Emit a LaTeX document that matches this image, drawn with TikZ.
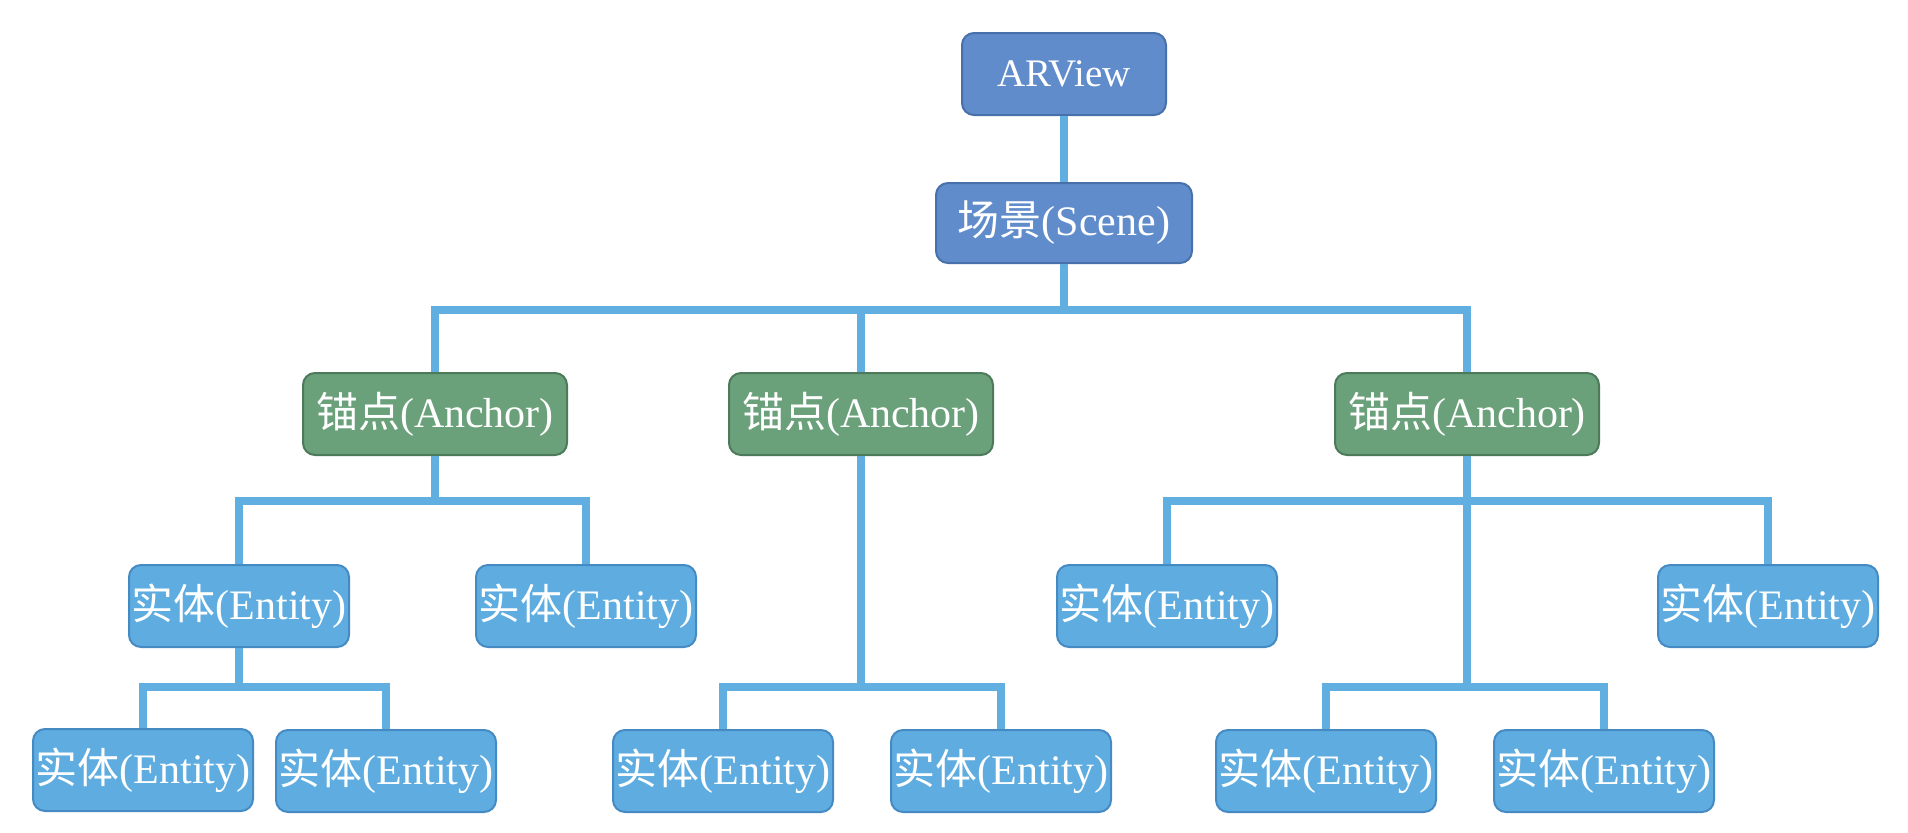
\documentclass[tikz,border=0pt]{standalone}
\usepackage{fontspec}
\setmainfont{Liberation Serif}
\newfontfamily\cjk{Noto Sans CJK SC}
\definecolor{topfill}{RGB}{96,140,204}
\definecolor{topdraw}{RGB}{72,112,170}
\definecolor{ancfill}{RGB}{106,160,122}
\definecolor{ancdraw}{RGB}{76,122,90}
\definecolor{entfill}{RGB}{95,173,224}
\definecolor{entdraw}{RGB}{70,138,196}
\definecolor{linec}{RGB}{96,175,224}
\begin{document}
\begin{tikzpicture}[x=0.5pt,y=-0.5pt,
  box/.style={rounded corners=6pt, draw, line width=1pt, text=white,
    font=\fontsize{21}{25}\selectfont, inner sep=0pt, minimum height=41pt},
  topbox/.style={box, fill=topfill, draw=topdraw},
  ancbox/.style={box, fill=ancfill, draw=ancdraw, minimum width=132pt},
  entbox/.style={box, fill=entfill, draw=entdraw, minimum width=110pt},
  conn/.style={draw=linec, line width=4pt}]
\useasboundingbox[fill=white] (0,0) rectangle (1908,832);
% nodes
\node[topbox, minimum width=102pt, font=\fontsize{19.5}{24}\selectfont] (arview) at (1064,74) {ARView};
\node[topbox, minimum width=128pt, minimum height=40pt] (scene) at (1064,223) {{\cjk 场景}(Scene)};
\node[ancbox] (a1) at (435,414) {{\cjk 锚点}(Anchor)};
\node[ancbox] (a2) at (861,414) {{\cjk 锚点}(Anchor)};
\node[ancbox] (a3) at (1467,414) {{\cjk 锚点}(Anchor)};
\node[entbox] (e1) at (239,606) {{\cjk 实体}(Entity)};
\node[entbox] (e2) at (586,606) {{\cjk 实体}(Entity)};
\node[entbox] (e3) at (1167,606) {{\cjk 实体}(Entity)};
\node[entbox] (e4) at (1768,606) {{\cjk 实体}(Entity)};
\node[entbox] (l1) at (143,770) {{\cjk 实体}(Entity)};
\node[entbox] (l2) at (386,771) {{\cjk 实体}(Entity)};
\node[entbox] (l3) at (723,771) {{\cjk 实体}(Entity)};
\node[entbox] (l4) at (1001,771) {{\cjk 实体}(Entity)};
\node[entbox] (l5) at (1326,771) {{\cjk 实体}(Entity)};
\node[entbox] (l6) at (1604,771) {{\cjk 实体}(Entity)};
% bus coordinates
\coordinate (b1) at (1064,310);
\coordinate (b2a) at (435,501);
\coordinate (b3a) at (239,687);
\coordinate (b3b) at (861,687);
\coordinate (b2c) at (1467,501);
\coordinate (b3c) at (1467,687);
% connectors
\draw[conn] (arview) -- (scene);
\draw[conn] (scene) -- (scene |- b1);
\draw[conn] (a1.north) |- (b1) -| (a3.north);
\draw[conn] (a2) -- (a2 |- b1);
\draw[conn] (a1) -- (a1 |- b2a);
\draw[conn] (e1.north) |- (b2a) -| (e2.north);
\draw[conn] (e1) -- (e1 |- b3a);
\draw[conn] (l1.north) |- (b3a) -| (l2.north);
\draw[conn] (a2) -- (a2 |- b3b);
\draw[conn] (l3.north) |- (b3b) -| (l4.north);
\draw[conn] (a3) -- (a3 |- b3c);
\draw[conn] (e3.north) |- (b2c) -| (e4.north);
\draw[conn] (l5.north) |- (b3c) -| (l6.north);
\end{tikzpicture}
\end{document}
